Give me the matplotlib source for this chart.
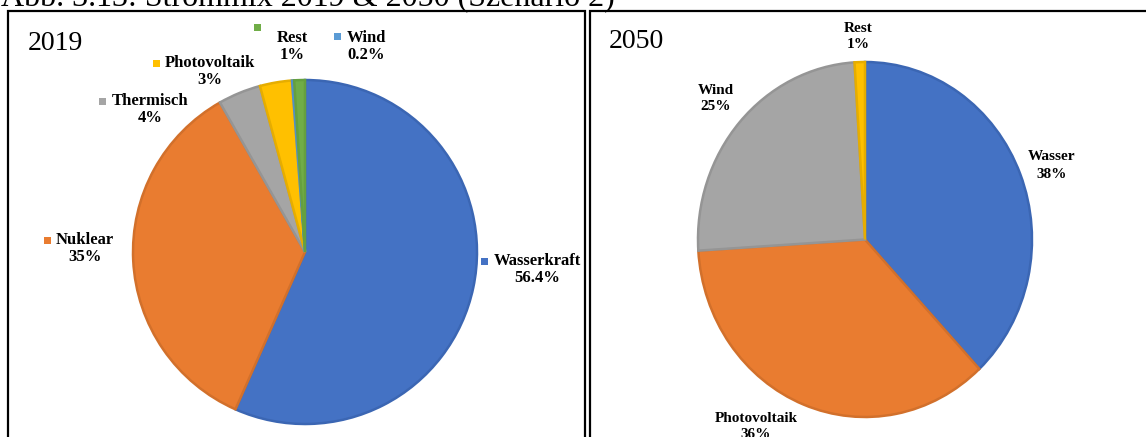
import matplotlib.pyplot as plt
from matplotlib.patches import Rectangle

W, H = 1146, 437

# Strommix 2019
labels_2019 = ["Wasserkraft", "Nuklear", "Thermisch", "Photovoltaik", "Wind", "Rest"]
shares_2019 = [56.4, 35, 4, 3, 0.2, 1]

# Strommix 2050 (Szenario 2)
labels_2050 = ["Wasser", "Photovoltaik", "Wind", "Rest"]
shares_2050 = [38, 36, 25, 1]

caption = "Abb. 3.13: Strommix 2019 & 2050 (Szenario 2)"

# excel-like palette, outlines a shade darker
faces = ["#4472C4", "#E97C30", "#A5A5A5", "#FFC000", "#5B9BD5", "#70AD47"]
edges = ["#3B66B3", "#D2702B", "#959595", "#E6AD00", "#5290C8", "#65A03F"]

# label centres in pixels (from top-left), legend keys for 2019
pos_2019 = [(537, 261), (85, 240), (150, 101), (210, 63), (366, 38), (292, 38)]
keys_2019 = [(484, 261), (47, 240), (102, 101), (156, 63), (337, 36), (257, 27)]
pos_2050 = [(1052, 157), (756, 418), (716, 90), (858, 28)]

plt.rcParams['font.family'] = ['Liberation Serif', 'DejaVu Serif']


def fx(x):
    return x / W


def fy(y):
    return 1 - y / H


fig = plt.figure(figsize=(W / 100, H / 100), dpi=100)

PAD = 1.05


def draw_pie(values, cx, cy, rx, ry):
    ax = fig.add_axes([fx(cx - rx * PAD), fy(cy + ry * PAD),
                       2 * rx * PAD / W, 2 * ry * PAD / H])
    n = len(values)
    wedges, _ = ax.pie(values, colors=faces[:n], startangle=90, counterclock=False,
                       wedgeprops=dict(linewidth=1.8))
    for w, ec in zip(wedges, edges):
        w.set_edgecolor(ec)
    ax.set_xlim(-PAD, PAD)
    ax.set_ylim(-PAD, PAD)
    ax.set_aspect('auto')
    return ax


def draw_label(name, value, x, y, size):
    fig.text(fx(x), fy(y), name, fontsize=size, fontweight='bold',
             ha='center', va='center')
    fig.text(fx(x), fy(y + 17), f"{value:g}%", fontsize=size, fontweight='bold',
             ha='center', va='center')


draw_pie(shares_2019, 305, 252, 172, 172)
draw_pie(shares_2050, 865, 239.5, 167, 177.5)

for name, v, (x, y), (kx, ky), c in zip(labels_2019, shares_2019, pos_2019, keys_2019, faces):
    draw_label(name, v, x, y, 12)
    fig.add_artist(Rectangle((fx(kx - 3.5), fy(ky + 3.5)), 7 / W, 7 / H,
                             transform=fig.transFigure, color=c, lw=0))

for name, v, (x, y) in zip(labels_2050, shares_2050, pos_2050):
    draw_label(name, v, x, y, 11)

# panel frames
fig.add_artist(Rectangle((fx(8), fy(445)), fx(585) - fx(8), fy(11) - fy(445),
                         transform=fig.transFigure, fill=False, ec='black', lw=1.6))
fig.add_artist(Rectangle((fx(590), fy(445)), fx(1155) - fx(590), fy(11) - fy(445),
                         transform=fig.transFigure, fill=False, ec='black', lw=1.6))

fig.text(fx(28), fy(50), "2019", fontsize=20, va='baseline')
fig.text(fx(609), fy(48), "2050", fontsize=20, va='baseline')
fig.text(fx(1), fy(6), caption, fontsize=23, va='baseline')

fig.savefig("out.png", dpi=100)
